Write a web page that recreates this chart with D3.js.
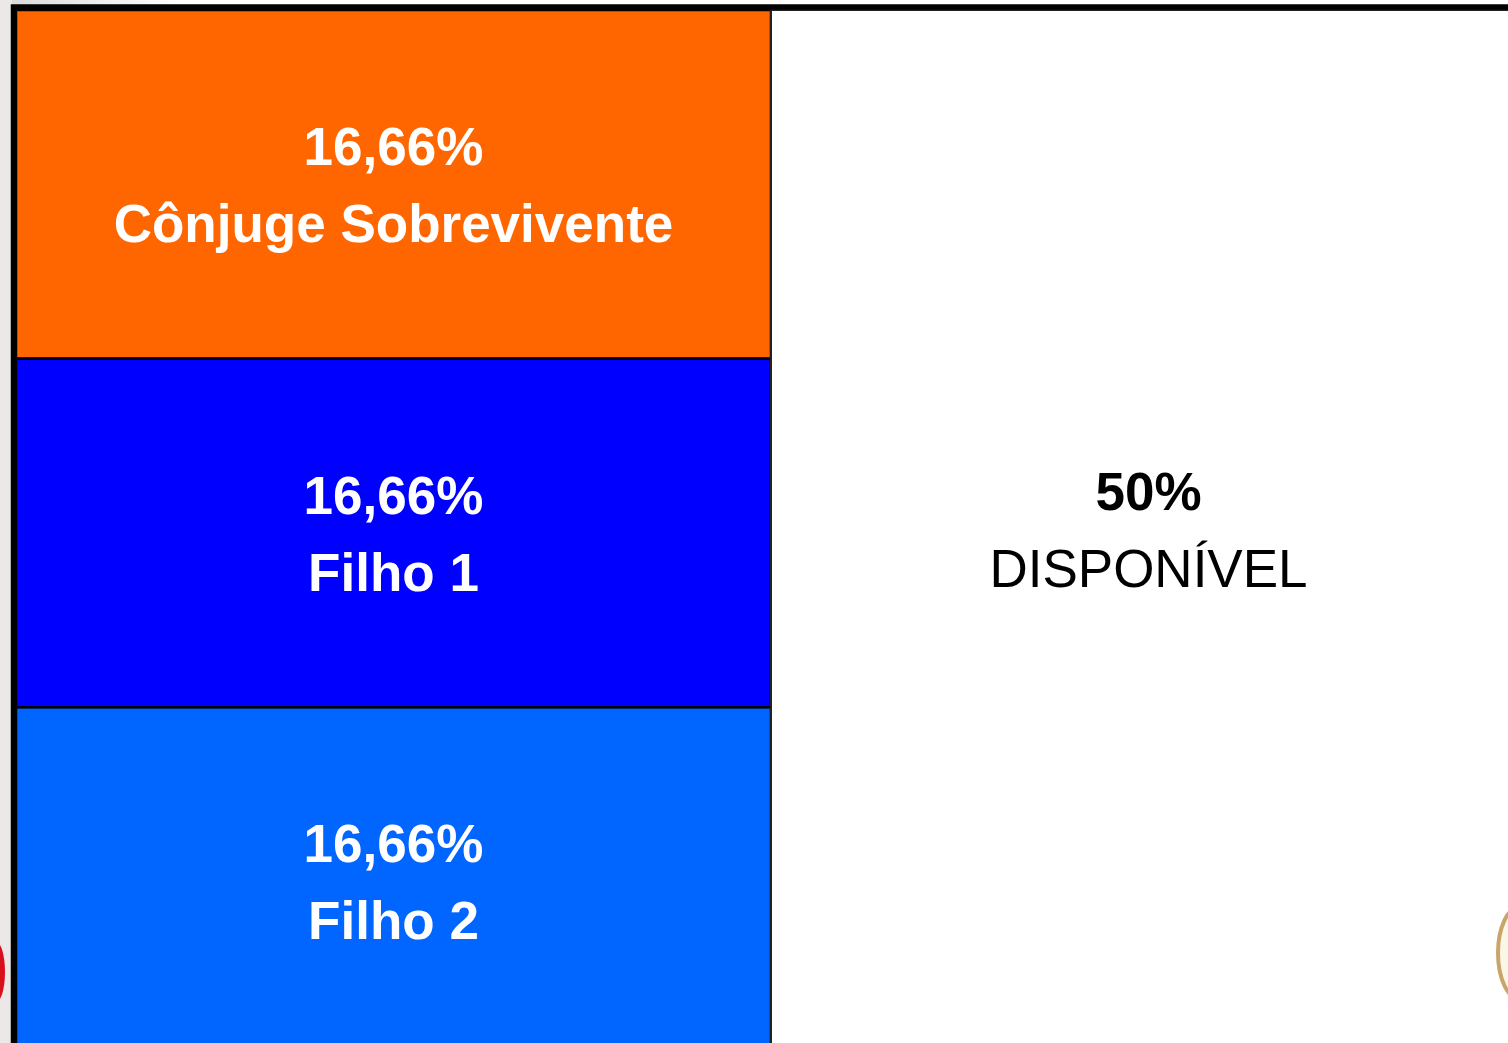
<!DOCTYPE html>
<html>
<head>
<meta charset="utf-8">
<script src="https://cdn.jsdelivr.net/npm/d3@7"></script>
<style>
  body { margin: 0; background: #fff; overflow: hidden; }
  text { font-family: "Liberation Sans", Arial, sans-serif; }
</style>
</head>
<body>
<script>
// data
const heirs = ['Cônjuge Sobrevivente', 'Filho 1', 'Filho 2'];
const heirValues = [16.66, 16.66, 16.66];
const heirLabels = ['16,66%', '16,66%', '16,66%'];
const heirColors = ['#ff6600', '#0000ff', '#0066ff'];
const availableValue = 50;
const availableLabel = '50%';
const availableName = 'DISPONÍVEL';

const W = 1508, H = 1043;
const FS = 53, LINE = 77;

const svg = d3.select('body').append('svg')
    .attr('width', W)
    .attr('height', H);

// page background bits around the table
const defs = svg.append('defs');
const grad = defs.append('linearGradient').attr('id', 'topFade');
grad.append('stop').attr('offset', '0%').attr('stop-color', '#d8d8d8');
grad.append('stop').attr('offset', '12%').attr('stop-color', '#ffffff');
svg.append('rect').attr('x', 0).attr('y', 0).attr('width', W).attr('height', 6).attr('fill', 'url(#topFade)');
svg.append('rect').attr('x', 0).attr('y', 0).attr('width', 12).attr('height', H).attr('fill', '#ece8e8');
svg.append('ellipse').attr('cx', -4).attr('cy', 972).attr('rx', 9).attr('ry', 30).attr('fill', '#d8101c');

const x = d3.scaleLinear().domain([0, 100]).range([16, 1526]);
const y = d3.scaleLinear().domain([0, d3.sum(heirValues)]).range([10, 1056]);

const stacked = [];
let acc = 0;
heirValues.forEach((v, i) => {
    stacked.push({ y0: acc, y1: acc + v, name: heirs[i], label: heirLabels[i], color: heirColors[i] });
    acc += v;
});

const leftW = x(100 - availableValue) - x(0);

const cells = svg.append('g').selectAll('g')
    .data(stacked)
    .enter()
    .append('g');

cells.append('rect')
    .attr('x', x(0))
    .attr('y', d => y(d.y0))
    .attr('width', leftW)
    .attr('height', d => y(d.y1) - y(d.y0))
    .attr('fill', d => d.color)
    .attr('stroke', '#000')
    .attr('stroke-width', 2.5);

cells.append('text')
    .attr('x', x(0) + leftW / 2)
    .attr('y', d => (y(d.y0) + y(d.y1)) / 2 - LINE / 2 + FS * 0.36)
    .attr('text-anchor', 'middle')
    .attr('font-size', FS)
    .attr('font-weight', 'bold')
    .attr('fill', '#fff')
    .text(d => d.label);

cells.append('text')
    .attr('x', x(0) + leftW / 2)
    .attr('y', d => (y(d.y0) + y(d.y1)) / 2 + LINE / 2 + FS * 0.36)
    .attr('text-anchor', 'middle')
    .attr('font-size', FS)
    .attr('font-weight', 'bold')
    .attr('fill', '#fff')
    .text(d => d.name);

// available share, full height on the right
const right = svg.append('g');
right.append('rect')
    .attr('x', x(100 - availableValue))
    .attr('y', y(0))
    .attr('width', x(100) - x(100 - availableValue))
    .attr('height', y.range()[1] - y.range()[0])
    .attr('fill', '#fff')
    .attr('stroke', '#222')
    .attr('stroke-width', 2);

const rcx = (x(100 - availableValue) + x(100)) / 2;
const rcy = 529;
right.append('text')
    .attr('x', rcx)
    .attr('y', rcy - LINE / 2 + FS * 0.36)
    .attr('text-anchor', 'middle')
    .attr('font-size', FS)
    .attr('font-weight', 'bold')
    .attr('fill', '#000')
    .text(availableLabel);
right.append('text')
    .attr('x', rcx)
    .attr('y', rcy + LINE / 2 + FS * 0.36)
    .attr('text-anchor', 'middle')
    .attr('font-size', FS)
    .attr('fill', '#000')
    .text(availableName);

// thick outer border
svg.append('rect')
    .attr('x', x(0) - 2.5)
    .attr('y', y(0) - 3)
    .attr('width', x(100) - x(0) + 20)
    .attr('height', y.range()[1] - y.range()[0] + 20)
    .attr('fill', 'none')
    .attr('stroke', '#000')
    .attr('stroke-width', 5.5);

// decoration peeking in at the right edge
svg.append('ellipse').attr('cx', 1520).attr('cy', 953).attr('rx', 22).attr('ry', 46)
    .attr('fill', '#fbf6e6').attr('stroke', '#c9a56a').attr('stroke-width', 4);
</script>
</body>
</html>
